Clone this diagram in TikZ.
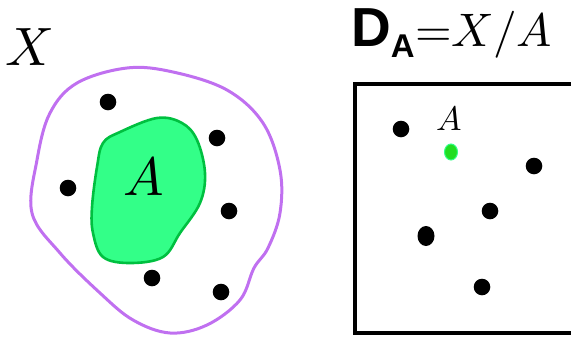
\documentclass[tikz,border=0pt]{standalone}
\usepackage{fontspec}
\usepackage{unicode-math}
\setmathfont{Latin Modern Math}
\setsansfont{Liberation Sans}
\usepackage{tikz}
\definecolor{blobpurple}{HTML}{C070F0}
\definecolor{setfill}{HTML}{33FF88}
\definecolor{setdraw}{HTML}{00C040}
\definecolor{pointgreen}{HTML}{22DD22}

\begin{document}
\begin{tikzpicture}[
        x=1pt, y=-1pt,
        biglabel/.style={inner sep=0, font=\fontsize{54}{54}\selectfont},
        smalllabel/.style={inner sep=0, font=\fontsize{34}{34}\selectfont},
        point/.style={fill=black}
    ]
        \clip (0,0) rectangle (571,338);
        \useasboundingbox (0,0) rectangle (571,338);

        % space X with subset A
        \draw[blobpurple, line width=3pt]
            plot[smooth cycle, tension=0.6] coordinates {
                (37,160) (50,113) (77,83) (127,68) (173,72) (227,90)
                (263,123) (280,170) (280,213) (268,248) (254,268)
                (240,300) (207,325) (170,333) (133,320) (100,293)
                (60,253) (32,213)};
        \draw[setdraw, fill=setfill, line width=2.6pt]
            plot[smooth cycle, tension=0.6] coordinates {
                (103,143) (120,132) (157,118) (182,123) (197,140)
                (205,173) (200,203) (180,233) (163,257) (130,263)
                (103,257) (93,233) (92,207) (97,167)};
        \node[biglabel] (xlabel) at (29,47) {$X$};
        \node[biglabel] (alabel) at (144,176) {$A$};

        \fill[point] (108,102) circle [radius=8.3];
        \fill[point] (217,138) circle [radius=8.3];
        \fill[point] (68,188) circle [radius=8.3];
        \fill[point] (229,211) circle [radius=8.3];
        \fill[point] (152,278) circle [radius=8.3];
        \fill[point] (221,292) circle [radius=8.3];

        % quotient space
        \node[anchor=base west, inner sep=0, font=\fontsize{47}{47}\selectfont]
            (title) at (351,46)
            {$\textsf{\bfseries\fontsize{55}{55}\selectfont D}_{\textsf{\bfseries A}}{=}X/A$};
        \draw[line width=3.5pt] (355,84) rectangle (600,333);

        \fill[point] (401,129) circle [radius=8.3];
        \fill[point] (534,166) circle [radius=8.3];
        \fill[point] (490,211) circle [radius=8.3];
        \fill[point] (426,236) ellipse [x radius=8.5, y radius=10];
        \fill[point] (482,287) circle [radius=8.3];
        \fill[pointgreen, draw=setfill, line width=1pt]
            (451,152) ellipse [x radius=6.5, y radius=8];
        \node[smalllabel] (apoint) at (449,118) {$A$};
    \end{tikzpicture}
\end{document}
